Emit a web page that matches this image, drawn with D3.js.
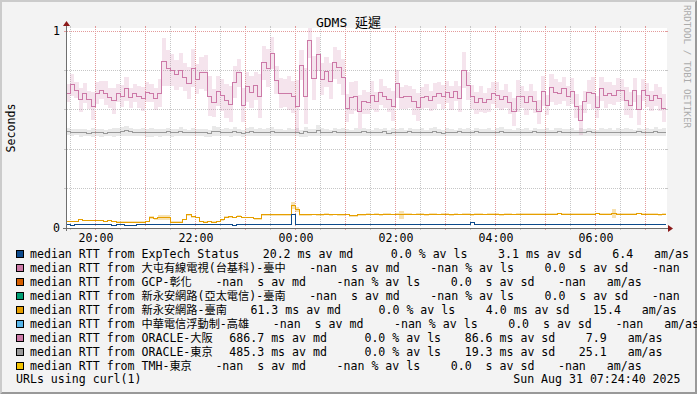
<!DOCTYPE html>
<html>
<head>
<meta charset="utf-8">
<script src="https://cdn.jsdelivr.net/npm/d3@7"></script>
<style>
  html, body { margin: 0; padding: 0; background: #f3f3f3; }
  svg { display: block; }
  text { font-family: "DejaVu Sans Mono", monospace; white-space: pre; fill: #000; }
</style>
</head>
<body>
<svg id="chart" width="697" height="394"></svg>
<script>
const width = 697;
const height = 394;
const plot = { left: 66, right: 666, top: 28, bottom: 228 };

// legend rows
const hosts = [
  "ExpTech Status",
  "大屯有線電視(台基科)-臺中",
  "GCP-彰化",
  "新永安網路(亞太電信)-臺南",
  "新永安網路-臺南",
  "中華電信浮動制-高雄",
  "ORACLE-大阪",
  "ORACLE-東京",
  "TMH-東京"
];
const hostColors = ["#0c4a8c", "#cc79a7", "#d55e00", "#009e73", "#e69f00", "#56b4e9", "#cc79a7", "#999999", "#f2c200"];
// null = -nan
const statMedian = [20.2, null, null, null, 61.3, null, 686.7, 485.3, null];
const statLoss = [0.0, null, null, null, 0.0, null, 0.0, 0.0, null];
const statSd = [3.1, 0.0, 0.0, 0.0, 4.0, 0.0, 86.6, 19.3, 0.0];
const statAmas = [6.4, null, null, null, 15.4, null, 7.9, 25.1, null];

const xTickLabels = ["20:00", "22:00", "00:00", "02:00", "04:00", "06:00"];
const yTicks = [0, 1];

// 5 minute steps, ms
const pinkMs = [
  685,726,700,650,685,650,619,685,700,685,660,645,
  685,670,706,660,685,665,655,690,685,655,685,843,
  812,802,777,802,766,736,812,756,787,787,670,635,
  695,675,645,629,741,787,624,716,690,721,670,838,
  812,888,751,685,685,685,665,619,827,670,954,761,
  883,756,792,746,838,817,766,609,660,670,589,640,
  635,675,640,690,665,650,619,731,660,665,665,640,
  614,660,670,645,670,685,665,690,660,695,655,802,
  721,665,635,655,635,650,685,675,650,670,635,589,
  670,665,635,665,640,589,695,624,711,690,685,706,
  670,695,619,548,640,690,685,614,706,675,685,675,
  700,700,645,624,700,599,700,675,645,675,655,609
];
const pinkSd = [
  45,55,40,60,50,45,70,55,45,60,50,65,
  45,55,60,50,45,55,60,50,45,55,70,120,
  90,80,75,85,70,80,95,75,80,90,100,70,
  75,80,85,90,80,70,85,75,80,70,110,85,
  95,80,70,75,70,85,80,130,75,140,90,110,
  85,80,75,90,80,85,90,70,80,75,85,60,
  55,70,50,65,55,60,75,70,55,60,55,65,
  70,55,60,50,65,55,60,55,60,50,65,90,
  70,60,55,65,50,60,55,65,50,60,55,70,
  80,55,60,65,55,60,75,50,70,65,55,60,
  50,65,60,75,55,60,80,55,60,65,55,50,
  60,55,70,65,60,75,55,60,50,55,60,70
];
const greyMs = [
  488,485,487,483,485,482,485,487,484,482,485,484,
  487,490,493,489,485,484,486,483,485,487,484,486,
  488,484,486,489,485,483,487,484,486,483,481,492,
  489,484,486,483,488,485,482,486,490,484,487,483,
  486,489,484,485,483,487,484,486,482,488,485,484,
  495,487,486,483,488,484,487,485,483,486,484,488,
  485,483,487,484,488,482,486,484,487,483,488,485,
  484,487,483,486,489,484,482,487,485,483,488,484,
  486,483,488,485,484,487,483,486,489,484,485,483,
  487,484,486,483,488,485,484,487,483,486,488,484,
  485,487,483,486,484,488,485,483,487,484,486,483,
  487,484,486,485,483,488,484,486,485,489,484,487
];
const greySd = [
  18,20,16,22,19,17,21,18,20,16,19,22,
  20,24,26,21,18,17,20,19,22,18,20,17,
  19,21,18,24,20,17,22,19,18,21,17,25,
  22,18,20,19,23,17,18,21,24,19,20,18,
  21,23,18,20,17,22,19,20,18,24,20,19,
  28,20,19,17,22,18,21,19,17,20,18,22,
  19,17,21,18,22,16,20,18,21,17,22,19,
  18,21,17,20,23,18,16,21,19,17,22,18,
  20,17,22,19,18,21,17,20,23,18,19,17,
  21,18,20,17,22,19,18,21,17,20,22,18,
  19,21,17,20,18,22,19,17,21,18,20,17,
  21,18,20,19,17,22,18,20,19,23,18,21
];
const orangeMs = [
  34,32,34,44,36,36,36,36,36,35,36,32,
  30,30,30,30,30,30,30,34,54,47,52,54,
  54,30,30,30,44,66,58,54,32,30,34,30,
  34,41,54,58,54,60,54,54,54,47,47,66,
  66,66,66,66,66,66,115,95,66,66,66,68,
  66,66,70,66,68,66,66,68,61,61,66,66,
  70,68,71,66,71,71,68,71,66,71,71,68,
  71,71,66,71,71,68,71,71,66,71,68,71,
  71,66,71,71,68,71,71,71,66,71,71,68,
  71,71,71,71,71,71,71,71,71,71,73,71,
  71,71,71,71,71,71,71,73,71,71,71,73,
  71,71,71,71,71,73,71,71,71,71,66,71
];
const orangeSd = [
  3,3,3,4,3,3,3,3,3,3,3,3,
  3,3,3,3,3,3,3,3,8,6,12,14,
  12,3,3,3,4,6,5,4,3,3,3,3,
  3,4,5,5,4,5,4,4,4,4,4,5,
  4,4,4,4,4,5,18,14,4,4,4,4,
  4,4,5,4,4,4,4,4,4,4,4,4,
  4,4,4,4,4,4,4,5,20,4,4,4,
  4,4,4,4,4,4,4,4,4,4,4,4,
  4,4,4,4,4,4,4,4,4,4,4,4,
  4,4,4,4,4,4,4,4,4,4,4,4,
  4,4,4,4,4,4,4,4,4,4,4,22,
  4,4,4,4,4,4,4,4,4,4,4,4
];
const blueMs = [
  20,15,20,20,20,20,20,20,20,20,20,15,
  20,20,15,15,15,20,20,20,20,20,20,20,
  20,20,20,20,20,20,20,20,20,20,20,20,
  20,20,20,20,15,20,20,20,20,20,20,20,
  20,20,20,20,20,20,67,20,20,20,20,20,
  20,20,20,20,20,20,20,20,20,20,20,20,
  20,20,20,20,20,20,20,20,20,20,20,20,
  20,20,20,20,20,20,20,20,20,20,20,20,
  20,26,20,20,20,20,20,20,20,20,20,20,
  20,20,20,20,20,20,20,20,20,20,20,20,
  20,20,20,20,20,20,20,20,20,20,20,20,
  20,20,20,20,20,20,20,20,20,20,20,20
];

const start = new Date(2025, 7, 30, 19, 24, 40);
const end = new Date(2025, 7, 31, 7, 24, 40);
const stepMs = 5 * 60 * 1000;

const x = d3.scaleTime().domain([start, end]).range([plot.left, plot.right]);
const y = d3.scaleLinear().domain([0, 1]).range([228, 31]);

const svg = d3.select("#chart");

// background + shade
svg.append("rect").attr("width", width).attr("height", height).attr("fill", "#f3f3f3");
svg.append("path")
  .attr("d", `M0,0H${width}L${width - 2},2H2V${height - 2}L0,${height}Z`)
  .attr("fill", "#cbcbcb");
svg.append("path")
  .attr("d", `M${width},0V${height}H0L2,${height - 2}H${width - 2}V2Z`)
  .attr("fill", "#999999");

svg.append("rect")
  .attr("x", plot.left).attr("y", plot.top)
  .attr("width", plot.right - plot.left + 1).attr("height", plot.bottom - plot.top)
  .attr("fill", "#fff");

svg.append("clipPath").attr("id", "clip")
  .append("rect")
  .attr("x", plot.left).attr("y", plot.top)
  .attr("width", plot.right - plot.left).attr("height", plot.bottom - plot.top);

// grid
const grid = svg.append("g").attr("shape-rendering", "crispEdges");
const minorCol = "#c6c6c6";
const majorCol = "#e39b9b";
const px = (v) => Math.floor(v) + 0.5;

d3.timeMinute.every(30).range(start, end).forEach((t) => {
  const major = t.getMinutes() === 0;
  const xx = px(x(t));
  const c = major ? majorCol : minorCol;
  grid.append("line").attr("x1", xx).attr("x2", xx).attr("y1", plot.top + 1).attr("y2", plot.bottom - 1)
    .attr("stroke", c).attr("stroke-dasharray", "1,1");
  grid.append("line").attr("x1", xx).attr("x2", xx).attr("y1", plot.top - 2).attr("y2", plot.top).attr("stroke", c);
  grid.append("line").attr("x1", xx).attr("x2", xx).attr("y1", plot.bottom).attr("y2", plot.bottom + 2).attr("stroke", c);
});

[0.2, 0.4, 0.6, 0.8, 1].forEach((v) => {
  const yy = px(y(v));
  const c = v === 1 ? majorCol : minorCol;
  grid.append("line").attr("x1", plot.left + 1).attr("x2", plot.right).attr("y1", yy).attr("y2", yy)
    .attr("stroke", c).attr("stroke-dasharray", "1,1");
  grid.append("line").attr("x1", plot.left - 2).attr("x2", plot.left).attr("y1", yy).attr("y2", yy).attr("stroke", c);
  grid.append("line").attr("x1", plot.right).attr("x2", plot.right + 2).attr("y1", yy).attr("y2", yy).attr("stroke", c);
});

// series
const toPoints = (vals, sd) => {
  const pts = vals.map((v, i) => ({ t: new Date(start.getTime() + i * stepMs), v: v, sd: sd ? sd[i] : 0 }));
  const last = pts[pts.length - 1];
  pts.push({ t: new Date(last.t.getTime() + stepMs), v: last.v, sd: last.sd });
  return pts;
};

const series = [
  { vals: greyMs, sd: greySd, color: "#999999", band: 0.22 },
  { vals: pinkMs, sd: pinkSd, color: "#cc79a7", band: 0.2 },
  { vals: orangeMs, sd: orangeSd, color: "#e69f00", band: 0.3 },
  { vals: blueMs, sd: null, color: "#0c4a8c", band: 0 }
];

const data = svg.append("g").attr("clip-path", "url(#clip)");

const band = d3.area()
  .x((d) => x(d.t))
  .y0((d) => y((d.v - d.sd) / 1000))
  .y1((d) => y((d.v + d.sd) / 1000))
  .curve(d3.curveStepAfter);

const line = d3.line()
  .x((d) => x(d.t))
  .y((d) => y(d.v / 1000))
  .curve(d3.curveStepAfter);

series.forEach((s) => {
  if (!s.sd) return;
  data.append("path")
    .datum(toPoints(s.vals, s.sd))
    .attr("d", band)
    .attr("fill", s.color)
    .attr("fill-opacity", s.band)
    .attr("shape-rendering", "crispEdges");
});

series.forEach((s) => {
  data.append("path")
    .datum(toPoints(s.vals, null))
    .attr("d", line)
    .attr("fill", "none")
    .attr("stroke", s.color)
    .attr("stroke-width", 1)
    .attr("shape-rendering", "crispEdges");
});

// axes lines + arrows
const axisCol = "#6e6e6e";
const arrowCol = "#8b1a1a";
svg.append("line").attr("x1", plot.left - 3).attr("x2", plot.right + 2)
  .attr("y1", 228.5).attr("y2", 228.5).attr("stroke", axisCol).attr("shape-rendering", "crispEdges");
svg.append("line").attr("x1", plot.left + 0.5).attr("x2", plot.left + 0.5)
  .attr("y1", 231).attr("y2", 25).attr("stroke", axisCol).attr("shape-rendering", "crispEdges");
svg.append("path").attr("d", `M${plot.right + 2},225L${plot.right + 7},228.5L${plot.right + 2},232Z`).attr("fill", arrowCol);
svg.append("path").attr("d", `M${plot.left - 3},26L${plot.left + 0.5},21L${plot.left + 4},26Z`).attr("fill", arrowCol);

// tick labels
const tickDate = (lab) => {
  const [hh, mm] = lab.split(":").map(Number);
  return new Date(2025, 7, hh >= 12 ? 30 : 31, hh, mm);
};

const xAxis = svg.append("g")
  .attr("transform", "translate(0,228)")
  .call(d3.axisBottom(x).tickValues(xTickLabels.map(tickDate)).tickSize(0).tickFormat(d3.timeFormat("%H:%M")));
xAxis.select(".domain").remove();
xAxis.selectAll("text")
  .attr("y", 13.5).attr("dy", null)
  .attr("font-family", '"DejaVu Sans Mono", monospace')
  .attr("font-size", "11.58px").attr("fill", "#000");

const yAxis = svg.append("g")
  .attr("transform", `translate(${plot.left},0)`)
  .call(d3.axisLeft(y).tickValues(yTicks).tickSize(0).tickPadding(6).tickFormat(d3.format("d")));
yAxis.select(".domain").remove();
yAxis.selectAll("text")
  .attr("dy", "0.34em")
  .attr("font-family", '"DejaVu Sans Mono", monospace')
  .attr("font-size", "11.58px").attr("fill", "#000");

// text helpers
const CJK = /([\u2e80-\u9fff\uf900-\ufaff\uff00-\uffef]+)/;
function richText(t, str, cjkSize) {
  str.split(CJK).forEach((part, i) => {
    if (!part) return;
    const ts = t.append("tspan").text(part);
    if (i % 2 === 1) ts.attr("font-family", '"Noto Sans CJK TC", sans-serif').attr("font-size", cjkSize);
  });
}

// title
const title = svg.append("text")
  .attr("x", 348.5).attr("y", 26.5)
  .attr("text-anchor", "middle")
  .attr("font-size", "13px");
richText(title, "GDMS 延遲", "13px");

// y label
svg.append("text")
  .attr("transform", "translate(14.5,128) rotate(-90)")
  .attr("text-anchor", "middle")
  .attr("font-size", "11.58px")
  .text("Seconds");

// watermark
svg.append("text")
  .attr("transform", "translate(684,5) rotate(90)")
  .attr("font-size", "9.3px")
  .style("fill", "#ababab")
  .text("RRDTOOL / TOBI OETIKER");

// legend
const legend = svg.append("g").attr("font-size", "11.58px");
const gap = 16.6;
const fmt = (v) => (v == null ? " -nan" : v.toFixed(1).padStart(5, " "));
const unit = (v) => (v == null || v === 0 ? " " : "m");

hosts.forEach((h, i) => {
  const cy = 254.3 + i * 13.9;
  legend.append("rect")
    .attr("x", 16.5).attr("y", Math.round(cy - 4) + 0.5)
    .attr("width", 7).attr("height", 7)
    .attr("fill", hostColors[i]).attr("stroke", "#000")
    .attr("shape-rendering", "crispEdges");
  const lab = legend.append("text").attr("x", 30).attr("y", cy + 4);
  richText(lab, "median RTT from " + h, "11.2px");
  let xx = 30 + lab.node().getComputedTextLength() + gap;
  const parts = [
    fmt(statMedian[i]) + " " + unit(statMedian[i]) + "s av md ",
    fmt(statLoss[i]) + " % av ls",
    fmt(statSd[i]) + " " + unit(statSd[i]) + "s av sd",
    fmt(statAmas[i]) + "   am/as"
  ];
  parts.forEach((p) => {
    const t = legend.append("text").attr("x", xx).attr("y", cy + 4).text(p);
    xx += t.node().getComputedTextLength() + gap;
  });
});

legend.append("text").attr("x", 16).attr("y", 383.3).text("URLs using curl(1)");
legend.append("text").attr("x", 680.5).attr("y", 383.3).attr("text-anchor", "end")
  .text(d3.timeFormat("%a %b %d %H:%M:%S %Y")(end));
</script>
</body>
</html>
